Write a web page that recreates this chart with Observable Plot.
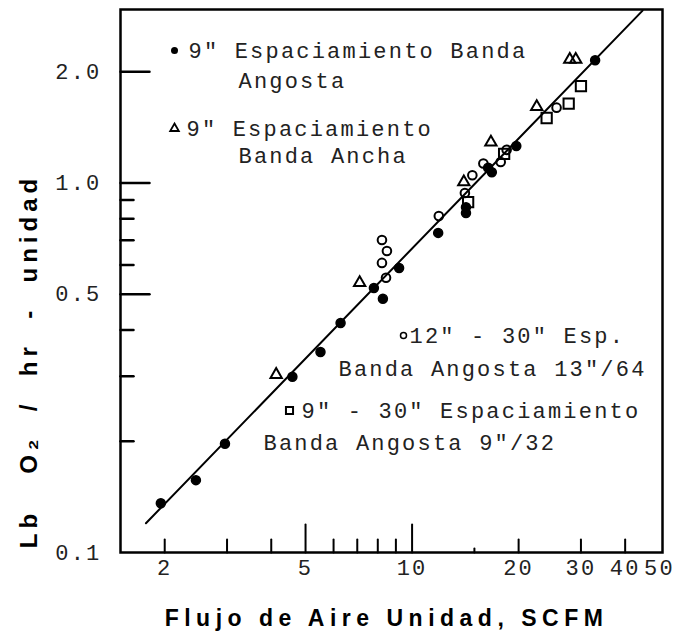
<!DOCTYPE html>
<html>
<head>
<meta charset="utf-8">
<script src="https://cdn.jsdelivr.net/npm/d3@7"></script>
<script src="https://cdn.jsdelivr.net/npm/@observablehq/plot@0.6"></script>
<style>
  body { margin: 0; background: #fff; }
  svg text { letter-spacing: 2.2px; white-space: pre; }
  svg g.xtitle text { letter-spacing: 5.5px; }
  svg g.ytitle text { letter-spacing: 5px; }
</style>
</head>
<body>
<div id="chart"></div>
<script>
// ---- data ----
// 9" Espaciamiento Banda Angosta (filled circles)
const filledX = [1.95, 2.45, 2.96, 4.59, 5.51, 6.28, 7.80, 8.27, 9.19, 11.85, 14.2, 14.2, 16.4, 16.8, 19.7, 32.9];
const filledY = [0.136, 0.157, 0.197, 0.299, 0.349, 0.418, 0.520, 0.486, 0.589, 0.733, 0.83, 0.86, 1.10, 1.07, 1.26, 2.15];
// 9" Espaciamiento Banda Ancha (triangles)
const triX = [4.13, 7.11, 14.0, 16.7, 22.5, 27.9, 29.0];
const triY = [0.303, 0.537, 1.006, 1.29, 1.61, 2.16, 2.16];
// 12" - 30" Esp. Banda Angosta 13"/64 (open circles)
const openX = [8.22, 8.49, 8.22, 8.44, 11.9, 14.1, 14.8, 15.9, 17.8, 18.5, 25.6];
const openY = [0.701, 0.655, 0.608, 0.554, 0.814, 0.94, 1.05, 1.13, 1.14, 1.23, 1.60];
// 9" - 30" Espaciamiento Banda Angosta 9"/32 (squares)
const sqX = [14.4, 18.2, 24.0, 27.7, 30.0];
const sqY = [0.888, 1.20, 1.50, 1.64, 1.83];
// fitted line
const fitX = [1.77, 44.8];
const fitY = [0.12, 2.93];

// ticks
const xTickLabels = [2, 5, 10, 20, 30, 40, 50];
const xMajorTicks = [5, 10];
const xMinorTicks = [2, 3, 4, 6, 7, 8, 9, 20, 30, 40];
const xTinyTicks = [15];
const yTickLabels = [0.1, 0.5, 1.0, 2.0];
const yMajorTicks = [0.5, 1.0, 2.0];
const yMinorTicks = [0.2, 0.3, 0.4, 0.6, 0.7, 0.8, 0.9];

const xTitle = "Flujo de Aire Unidad, SCFM";
const yTitle = "Lb   O\u2082  /  hr  -  unidad";
const legend1 = ["9\" Espaciamiento Banda", "Angosta"];
const legend2 = ["9\" Espaciamiento", "Banda Ancha"];
const legend3 = ["12\" - 30\" Esp.", "Banda Angosta 13\"/64"];
const legend4 = ["9\" - 30\" Espaciamiento", "Banda Angosta 9\"/32"];

const toRows = (xs, ys) => xs.map((x, i) => ({x, y: ys[i]}));
const filled = toRows(filledX, filledY);
const tri = toRows(triX, triY);
const open = toRows(openX, openY);
const sq = toRows(sqX, sqY);
const fit = toRows(fitX, fitY);

const tickShape = {draw(context, l) { context.moveTo(0, 0); context.lineTo(0, -l); }};
const mono = "Liberation Mono, DejaVu Sans Mono, monospace";
const sans = "Liberation Sans, Arial, sans-serif";

const legendText = (txt, dx, dy) => Plot.text([txt], {
  frameAnchor: "top-left", text: d => d, textAnchor: "start", lineAnchor: "middle",
  dx, dy, fontFamily: mono, fontSize: 22, fill: "#222"
});

const chart = Plot.plot({
  width: 685,
  height: 636,
  marginLeft: 120,
  marginRight: 23,
  marginTop: 9,
  marginBottom: 84,
  x: {type: "log", domain: [1.5, 51], axis: null},
  y: {type: "log", domain: [0.1, 2.95], axis: null},
  style: {fontFamily: mono, fontSize: "22px", background: "white", color: "black"},
  marks: [
    Plot.frame({stroke: "black", strokeWidth: 2.5}),
    // inward ticks
    Plot.vector(yMajorTicks, {y: d => d, frameAnchor: "left", rotate: 90, length: 29, anchor: "start", shape: tickShape, stroke: "black", strokeWidth: 2.5}),
    Plot.vector(yMinorTicks, {y: d => d, frameAnchor: "left", rotate: 90, length: 13, anchor: "start", shape: tickShape, stroke: "black", strokeWidth: 2.5}),
    Plot.vector(xMajorTicks, {x: d => d, frameAnchor: "bottom", rotate: 0, length: 28, anchor: "start", shape: tickShape, stroke: "black", strokeWidth: 2}),
    Plot.vector(xMinorTicks, {x: d => d, frameAnchor: "bottom", rotate: 0, length: 13, anchor: "start", shape: tickShape, stroke: "black", strokeWidth: 2}),
    Plot.vector(xTinyTicks, {x: d => d, frameAnchor: "bottom", rotate: 0, length: 4, anchor: "start", shape: tickShape, stroke: "black", strokeWidth: 2}),
    // tick labels
    Plot.text(yTickLabels, {y: d => d, frameAnchor: "left", text: d => d3.format(".1f")(d), textAnchor: "end", dx: -19, fill: "#222"}),
    Plot.text(xTickLabels, {x: d => d, frameAnchor: "bottom", text: d => String(d), lineAnchor: "top", dy: 7, fill: "#222"}),
    // axis titles
    Plot.text([xTitle], {frameAnchor: "bottom", text: d => d, textAnchor: "middle", dy: 66, dx: -5, lineAnchor: "middle", fontFamily: sans, fontWeight: "bold", fontSize: 23, className: "xtitle"}),
    Plot.text([yTitle], {frameAnchor: "left", text: d => d, textAnchor: "middle", rotate: -90, dx: -91, dy: 80, lineAnchor: "middle", fontFamily: sans, fontWeight: "bold", fontSize: 24, className: "ytitle"}),
    // fitted line
    Plot.line(fit, {x: "x", y: "y", stroke: "black", strokeWidth: 2}),
    // data
    Plot.dot(filled, {x: "x", y: "y", r: 4.5, fill: "black", stroke: "black"}),
    Plot.dot(open, {x: "x", y: "y", r: 4.3, fill: "none", stroke: "black", strokeWidth: 2}),
    Plot.dot(tri, {x: "x", y: "y", symbol: "triangle", r: 4.2, fill: "none", stroke: "black", strokeWidth: 2}),
    Plot.dot(sq, {x: "x", y: "y", symbol: "square", r: 5.8, fill: "none", stroke: "black", strokeWidth: 2}),
    // legend
    Plot.dot([0], {frameAnchor: "top-left", dx: 54, dy: 41, r: 3.5, fill: "black"}),
    legendText(legend1[0], 68, 41),
    legendText(legend1[1], 118, 71),
    Plot.dot([0], {frameAnchor: "top-left", dx: 54, dy: 119, symbol: "triangle", r: 3.2, fill: "none", stroke: "black", strokeWidth: 1.8}),
    legendText(legend2[0], 66, 119),
    legendText(legend2[1], 118, 146),
    Plot.dot([0], {frameAnchor: "top-left", dx: 283, dy: 326, r: 3, fill: "none", stroke: "black", strokeWidth: 1.5}),
    legendText(legend3[0], 289, 326),
    legendText(legend3[1], 218, 359),
    Plot.dot([0], {frameAnchor: "top-left", dx: 169, dy: 401, symbol: "square", r: 4, fill: "none", stroke: "black", strokeWidth: 2}),
    legendText(legend4[0], 181, 401),
    legendText(legend4[1], 143, 433)
  ]
});
document.getElementById("chart").appendChild(chart);
</script>
</body>
</html>
